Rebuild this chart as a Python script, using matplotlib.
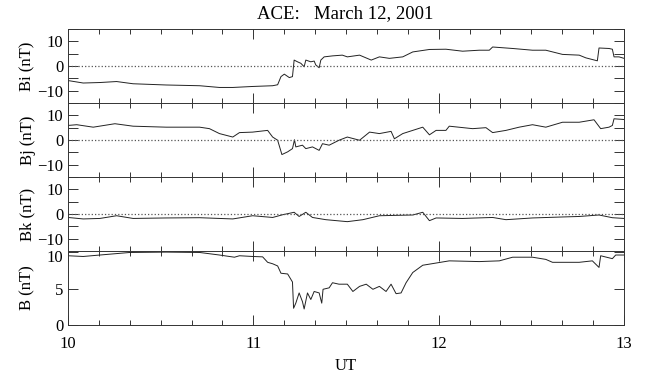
import numpy as np
import matplotlib.pyplot as plt
import matplotlib.transforms as mtransforms
from matplotlib.ticker import MultipleLocator

plt.rcParams['font.family'] = 'Liberation Serif'

# UT hours and field components (nT)
t_bi = [10.0, 10.082, 10.172, 10.262, 10.351, 10.53, 10.71, 10.817, 10.889, 10.996,
        11.104, 11.131, 11.149, 11.167, 11.194, 11.211, 11.22, 11.238, 11.256, 11.274,
        11.283, 11.31, 11.328, 11.337, 11.355, 11.364, 11.382, 11.427, 11.48, 11.507,
        11.573, 11.636, 11.68, 11.734, 11.806, 11.86, 11.95, 12.039, 12.129, 12.219,
        12.273, 12.291, 12.399, 12.506, 12.578, 12.668, 12.758, 12.794, 12.856, 12.865,
        12.919, 12.937, 12.946, 12.973, 13.0]
bi = [-5.9, -6.9, -6.7, -6.3, -7.2, -7.7, -8.0, -8.7, -8.7, -8.3,
      -8.0, -7.6, -4.3, -3.3, -4.7, -4.3, 2.4, 1.7, 1.1, -0.3,
      2.4, 1.7, 2.0, 0.4, -0.7, 2.4, 3.7, 4.1, 4.4, 3.7,
      4.4, 2.4, 3.7, 3.1, 3.7, 5.7, 6.7, 6.8, 6.0, 6.4,
      6.4, 7.7, 7.1, 6.4, 6.4, 4.7, 4.4, 3.3, 2.1, 7.3,
      7.1, 6.8, 3.7, 3.7, 3.1]

t_bj = [10.0, 10.047, 10.136, 10.253, 10.351, 10.53, 10.71, 10.763, 10.817, 10.889,
        10.925, 10.996, 11.077, 11.104, 11.131, 11.154, 11.185, 11.211, 11.222, 11.229,
        11.265, 11.283, 11.319, 11.355, 11.373, 11.409, 11.462, 11.507, 11.573, 11.627,
        11.68, 11.743, 11.761, 11.806, 11.86, 11.914, 11.95, 11.986, 12.039, 12.057,
        12.183, 12.255, 12.291, 12.363, 12.434, 12.506, 12.578, 12.668, 12.758, 12.838,
        12.874, 12.919, 12.937, 12.946, 13.0]
bj = [5.9, 6.2, 5.2, 6.6, 5.6, 5.2, 5.2, 4.6, 2.6, 1.2,
      3.0, 3.2, 3.9, 1.2, -0.1, -5.9, -4.8, -3.5, 0.1, -2.8,
      -2.1, -3.5, -2.8, -4.2, -1.5, -2.1, -0.1, 1.2, -0.1, 3.2,
      2.6, 3.5, 0.5, 2.6, 3.9, 5.2, 2.1, 3.9, 3.9, 5.6,
      4.6, 5.0, 3.0, 3.9, 5.2, 6.2, 5.2, 7.2, 7.2, 8.2,
      4.6, 5.2, 5.9, 8.6, 8.3]

t_bk = [10.0, 10.082, 10.172, 10.262, 10.351, 10.53, 10.71, 10.889, 10.996, 11.104,
        11.158, 11.22, 11.247, 11.283, 11.319, 11.391, 11.507, 11.591, 11.68, 11.86,
        11.914, 11.95, 11.986, 12.129, 12.291, 12.363, 12.506, 12.668, 12.758, 12.865,
        12.937, 13.0]
bk = [-1.4, -2.0, -1.8, -0.7, -1.8, -1.6, -1.5, -2.0, -0.7, -1.4,
      -0.3, 0.7, -1.0, 0.7, -1.4, -2.3, -3.1, -2.3, -0.7, -0.4,
      0.7, -2.7, -1.6, -1.8, -1.4, -2.3, -1.6, -1.2, -1.0, -0.4,
      -1.5, -1.8]

t_b = [10.0, 10.082, 10.172, 10.333, 10.53, 10.71, 10.817, 10.898, 10.925, 10.996,
       11.05, 11.077, 11.104, 11.131, 11.149, 11.185, 11.211, 11.217, 11.229, 11.247,
       11.265, 11.274, 11.292, 11.31, 11.328, 11.355, 11.369, 11.376, 11.409, 11.427,
       11.462, 11.507, 11.537, 11.573, 11.609, 11.645, 11.68, 11.716, 11.743, 11.77,
       11.797, 11.824, 11.86, 11.914, 11.986, 12.057, 12.219, 12.327, 12.399, 12.506,
       12.578, 12.614, 12.758, 12.829, 12.865, 12.874, 12.937, 12.955, 13.0]
b = [9.5, 9.4, 9.6, 9.95, 10.0, 9.95, 9.6, 9.3, 9.5, 9.4,
     9.35, 8.6, 8.4, 8.1, 7.1, 7.0, 5.9, 2.3, 3.0, 4.4,
     3.2, 2.2, 4.4, 3.5, 4.6, 4.4, 3.0, 4.9, 5.1, 5.8,
     5.6, 5.6, 4.6, 5.3, 5.6, 4.9, 5.3, 4.6, 5.6, 4.3,
     4.4, 5.8, 7.2, 8.2, 8.5, 8.8, 8.7, 8.8, 9.3, 9.3,
     9.0, 8.6, 8.6, 8.8, 7.9, 9.5, 9.1, 9.6, 9.6]

panels = [(t_bi, bi, 'Bi (nT)'), (t_bj, bj, 'Bj (nT)'),
          (t_bk, bk, 'Bk (nT)'), (t_b, b, 'B (nT)')]

fig, axes = plt.subplots(4, 1, sharex=True, figsize=(6.46, 3.80), dpi=100)
fig.subplots_adjust(left=0.1053, right=0.966, top=0.9237, bottom=0.1447, hspace=0)

for i, (ax, (t, y, lab)) in enumerate(zip(axes, panels)):
    ax.plot(t, y, color='#222222', linewidth=0.7)
    if i < 3:
        ax.axhline(0, color='#555555', linestyle=':', linewidth=0.9)
        ax.set_ylim(-15, 15)
        ax.set_yticks([-10, 0, 10])
        ax.yaxis.set_minor_locator(MultipleLocator(5))
    else:
        ax.set_ylim(0, 10.15)
        ax.set_yticks([0, 5, 10])
    ax.set_xlim(10, 13)
    ax.xaxis.set_major_locator(MultipleLocator(1))
    ax.xaxis.set_minor_locator(MultipleLocator(1 / 6))
    ax.tick_params(which='both', direction='in', top=True, right=True,
                   labelsize=12, width=0.7, color='#333333')
    ax.tick_params(axis='x', which='major', length=7)
    ax.tick_params(axis='x', which='minor', length=3.6)
    ax.tick_params(axis='y', which='both', length=7)
    for s in ax.spines.values():
        s.set_linewidth(0.7)
        s.set_color('#333333')
    ax.set_ylabel(lab, fontsize=12)
    ax.yaxis.set_label_coords(-0.058, 0.5)

# nudge the top "10" of the B panel down, as in the original
fig.canvas.draw()
shift = mtransforms.ScaledTranslation(0, -4 / 100, fig.dpi_scale_trans)
lbl = axes[3].get_yticklabels()[-1]
lbl.set_transform(lbl.get_transform() + shift)

axes[-1].tick_params(axis='x', pad=8)
axes[-1].set_xlabel('UT', fontsize=12, labelpad=4)
fig.text(0.535, 0.965, 'ACE:   March 12, 2001', ha='center', va='center', fontsize=13.5)

fig.savefig('out.png', dpi=100)
